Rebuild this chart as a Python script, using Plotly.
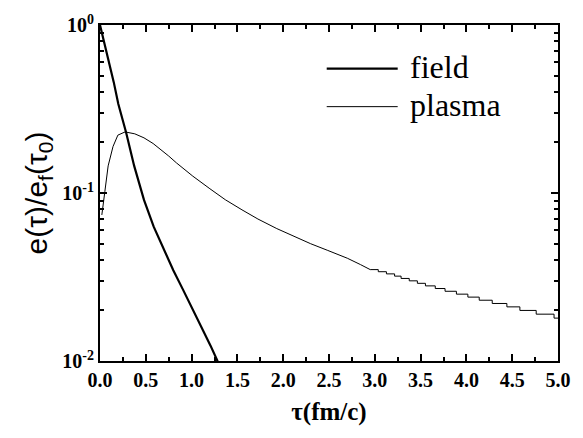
import plotly.graph_objects as go

# field energy density (thick line)
field_x = [0.0, 0.05, 0.10, 0.15, 0.20, 0.285, 0.373, 0.48, 0.586, 0.658, 0.80, 0.906, 1.013, 1.101, 1.208, 1.279, 1.30]
field_y = [1.0, 0.776, 0.596, 0.457, 0.339, 0.229, 0.145, 0.091, 0.063, 0.0513, 0.0347, 0.0266, 0.0204, 0.0162, 0.0123, 0.0101, 0.0095]

# plasma energy density, smooth part
plasma_x = [0.02, 0.035, 0.053, 0.089, 0.142, 0.195, 0.274, 0.38, 0.48, 0.58, 0.658, 0.75, 0.835, 1.013, 1.2, 1.368, 1.55, 1.724, 1.93, 2.132, 2.3, 2.487, 2.7, 2.843, 2.95]
plasma_y = [0.074, 0.088, 0.102, 0.145, 0.189, 0.221, 0.231, 0.225, 0.213, 0.197, 0.183, 0.166, 0.151, 0.126, 0.106, 0.0912, 0.0794, 0.0700, 0.0614, 0.0546, 0.0499, 0.0455, 0.0409, 0.0375, 0.035]

# plasma tail (values rounded to 1e-3, staircase)
tail_x = [2.95, 3.038, 3.127, 3.216, 3.287, 3.376, 3.465, 3.553, 3.660, 3.767, 3.891, 4.016, 4.140, 4.282, 4.442, 4.584, 4.762, 4.957, 5.0]
tail_y = [0.035, 0.034, 0.033, 0.032, 0.031, 0.030, 0.029, 0.028, 0.027, 0.026, 0.025, 0.024, 0.023, 0.022, 0.021, 0.020, 0.019, 0.018, 0.018]

x_ticks = [0.0, 0.5, 1.0, 1.5, 2.0, 2.5, 3.0, 3.5, 4.0, 4.5, 5.0]
x_tick_labels = ["0.0", "0.5", "1.0", "1.5", "2.0", "2.5", "3.0", "3.5", "4.0", "4.5", "5.0"]
y_ticks = [0.01, 0.1, 1.0]
y_tick_labels = ["10<sup>-2</sup>", "10<sup>-1</sup>", "10<sup>0</sup>"]
y_minor = [0.02, 0.03, 0.04, 0.05, 0.06, 0.07, 0.08, 0.09, 0.2, 0.3, 0.4, 0.5, 0.6, 0.7, 0.8, 0.9]

legend_names = ["field", "plasma"]
legend_widths = [2.2, 1]

SERIF = "Times New Roman, Liberation Serif, serif"

fig = go.Figure()
fig.add_trace(go.Scatter(x=field_x, y=field_y, mode="lines", name=legend_names[0],
                         line=dict(color="black", width=legend_widths[0])))
fig.add_trace(go.Scatter(x=plasma_x, y=plasma_y, mode="lines", name=legend_names[1],
                         line=dict(color="black", width=legend_widths[1])))
fig.add_trace(go.Scatter(x=tail_x, y=tail_y, mode="lines", name=legend_names[1],
                         line=dict(color="black", width=legend_widths[1], shape="hv")))

# legend drawn as line samples + labels (long sample lines as in the original)
legend_rows_y = [0.870, 0.757]
for name, w, ly in zip(legend_names, legend_widths, legend_rows_y):
    fig.add_shape(type="line", xref="paper", yref="paper", x0=0.495, x1=0.650, y0=ly, y1=ly,
                  line=dict(color="black", width=w))
    fig.add_annotation(xref="paper", yref="paper", x=0.673, y=ly + 0.004, xanchor="left", yanchor="middle",
                       text=name, showarrow=False,
                       font=dict(family=SERIF, size=32, color="black"))

tick_font = dict(family=SERIF, size=20, color="black", weight="bold")

fig.update_layout(
    width=583, height=438,
    margin=dict(l=100, r=14, t=15, b=77),
    paper_bgcolor="white", plot_bgcolor="white",
    showlegend=False,
    xaxis=dict(range=[0, 5.0], tickmode="array", tickvals=x_ticks, ticktext=x_tick_labels,
               ticks="inside", ticklen=7, tickwidth=1.5, tickcolor="black",
               showline=True, linecolor="black", linewidth=2, mirror="allticks",
               showgrid=False, zeroline=False,
               tickfont=tick_font,
               minor=dict(ticks="inside", ticklen=4, tickwidth=1.5, tickcolor="black",
                          dtick=0.25, tick0=0, showgrid=False),
               title=dict(text="τ(fm/c)", font=dict(family=SERIF, size=25, color="black", weight="bold"),
                          standoff=12)),
    yaxis=dict(type="log", range=[-2, 0], tickmode="array", tickvals=y_ticks, ticktext=y_tick_labels,
               ticks="inside", ticklen=7, tickwidth=1.5, tickcolor="black",
               showline=True, linecolor="black", linewidth=2, mirror="allticks",
               showgrid=False, zeroline=False,
               tickfont=tick_font,
               minor=dict(ticks="inside", ticklen=4, tickwidth=1.5, tickcolor="black",
                          tickmode="array", tickvals=y_minor, showgrid=False),
               title=dict(text="e(τ)/e<sub>f</sub>(τ<sub>0</sub>)",
                          font=dict(family="Liberation Sans, Arial, sans-serif", size=30, color="black"),
                          standoff=6)),
)

fig.write_html("out.html")
